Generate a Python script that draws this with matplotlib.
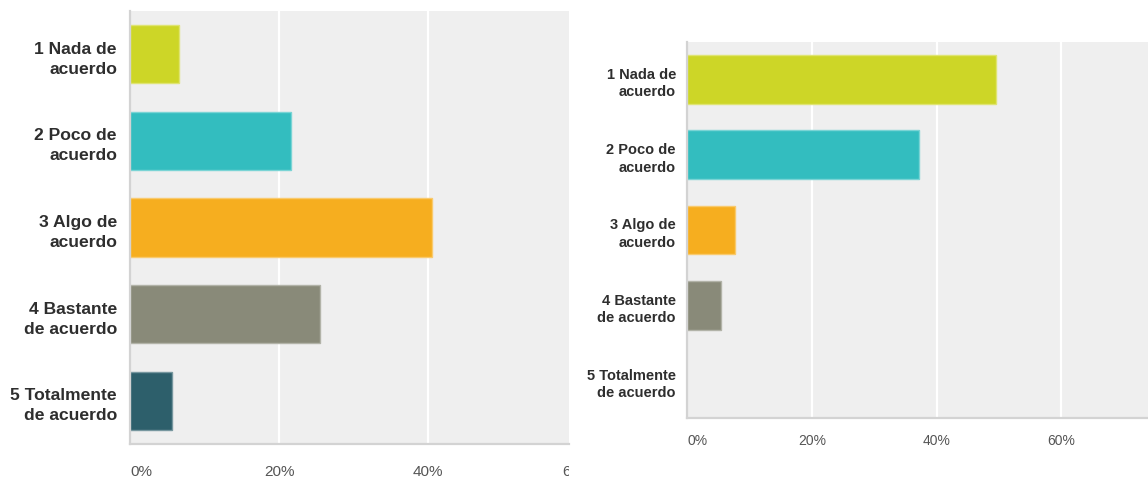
import matplotlib
matplotlib.use("Agg")
import matplotlib.pyplot as plt
from matplotlib.colors import to_rgb
from matplotlib.transforms import Bbox, TransformedBbox

# ---- data -------------------------------------------------------------
categories = [
    "1 Nada de\nacuerdo",
    "2 Poco de\nacuerdo",
    "3 Algo de\nacuerdo",
    "4 Bastante\nde acuerdo",
    "5 Totalmente\nde acuerdo",
]
left_values = [6.6, 21.6, 40.5, 25.5, 5.6]      # percent
right_values = [49.6, 37.2, 7.7, 5.5, 0.0]      # percent
tick_values = [0, 20, 40, 60]
tick_labels = ["0%", "20%", "40%", "60%"]
bar_colors = ["#cdd627", "#33bdbf", "#f6ae1f", "#898a79", "#2d5f6b"]

# ---- layout helpers ---------------------------------------------------
W, H = 1148, 481
fig = plt.figure(figsize=(W / 100, H / 100), dpi=100)
fig.patch.set_facecolor("white")


def rect(x0, y0, x1, y1):
    return [x0 / W, 1 - y1 / H, (x1 - x0) / W, (y1 - y0) / H]


def lighten(c, f=0.35):
    r, g, b = to_rgb(c)
    return (r + (1 - r) * f, g + (1 - g) * f, b + (1 - b) * f)


BG = "#efefef"
SPINE = "#d3d3d3"
LABEL_COLOR = "#2e2e2e"
TICK_COLOR = "#555555"


def draw_panel(ax, values, xmax, cat_size, cat_spacing, cat_pad,
               tick_size, tick_offset_px, bar_h, clip_right_px):
    ax.set_facecolor(BG)
    y = list(range(len(categories)))
    ax.barh(y, values, height=bar_h, color=bar_colors,
            edgecolor=[lighten(c) for c in bar_colors],
            linewidth=[1 if v > 0 else 0 for v in values], zorder=2)
    ax.set_xlim(0, xmax)
    ax.set_ylim(len(categories) - 0.5, -0.5)

    # vertical white gridlines
    for v in tick_values[1:]:
        if v < xmax:
            ax.axvline(v, color="white", lw=1.6, zorder=1)

    for side in ("top", "right"):
        ax.spines[side].set_visible(False)
    for side in ("left", "bottom"):
        ax.spines[side].set_color(SPINE)
        ax.spines[side].set_linewidth(1.6)

    ax.set_xticks([])
    ax.set_yticks(y)
    ax.set_yticklabels(categories)
    ax.tick_params(axis="y", length=0, pad=cat_pad)
    for lab in ax.get_yticklabels():
        lab.set_fontfamily("Liberation Sans")
        lab.set_fontweight("bold")
        lab.set_fontsize(cat_size)
        lab.set_color(LABEL_COLOR)
        lab.set_linespacing(cat_spacing)

    # percentage labels below the axis
    ax_h_px = ax.get_position().height * H
    clip = TransformedBbox(Bbox.from_extents(0, 0, clip_right_px / W, 1),
                           fig.transFigure)
    for v, t in zip(tick_values, tick_labels):
        txt = ax.text(v, -tick_offset_px / ax_h_px, t,
                      transform=ax.get_xaxis_transform(),
                      ha="left" if v == 0 else "center", va="center",
                      fontsize=tick_size, family="Liberation Sans",
                      color=TICK_COLOR, clip_on=True)
        txt.set_clip_box(clip)


axL = fig.add_axes(rect(130, 12, 569, 445))
draw_panel(axL, left_values, xmax=58.9, cat_size=12.6, cat_spacing=1.42,
           cat_pad=9.4, tick_size=11, tick_offset_px=27, bar_h=0.67,
           clip_right_px=569)

axR = fig.add_axes(rect(687, 43, 1148, 419))
draw_panel(axR, right_values, xmax=73.9, cat_size=10.5, cat_spacing=1.3,
           cat_pad=8, tick_size=10, tick_offset_px=22, bar_h=0.65,
           clip_right_px=W)

fig.savefig("out.png", dpi=100, facecolor="white")
